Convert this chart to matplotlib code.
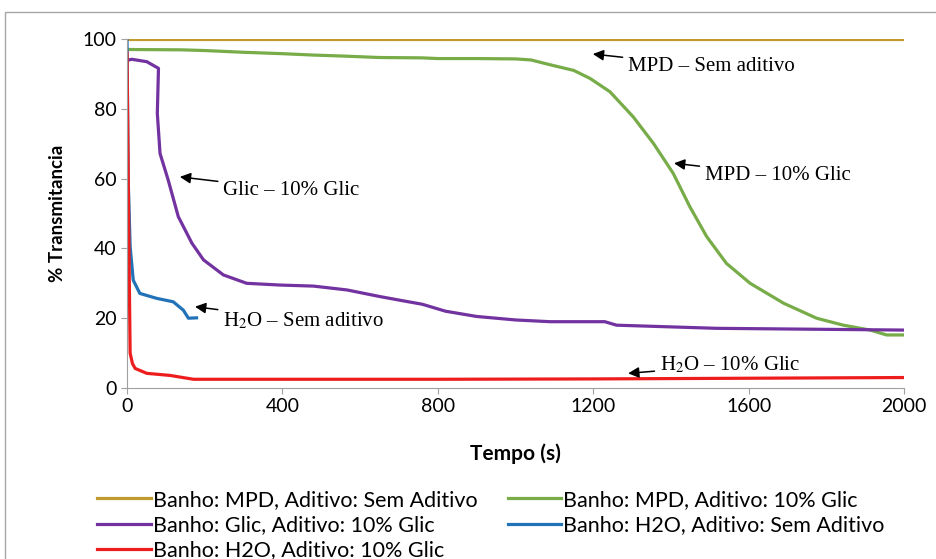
import matplotlib.pyplot as plt
from matplotlib.patches import Rectangle

# ---- dados ----
mpd_sem_t = [0, 2000]
mpd_sem_y = [100, 100]

mpd_glic_t = [0, 140, 200, 300, 400, 480, 560, 650, 760, 800, 900, 1000, 1040, 1090,
              1150, 1192, 1243, 1303, 1355, 1406, 1449, 1492, 1543, 1604, 1690, 1775,
              1844, 1913, 1955, 2000]
mpd_glic_y = [97, 96.9, 96.7, 96.2, 95.8, 95.4, 95.1, 94.7, 94.6, 94.4, 94.4, 94.3, 94.0, 92.6,
              91.0, 88.7, 84.9, 77.7, 70.1, 61.5, 51.9, 43.4, 35.7, 30.0, 24.3, 20.0,
              18.0, 16.6, 15.2, 15.2]

glic_glic_t = [5, 12, 51, 81, 78, 85, 106, 132, 167, 197, 248, 308, 394, 480, 566, 651,
               700, 760, 820, 900, 1000, 1089, 1230, 1260, 1518, 2000]
glic_glic_y = [94, 94.2, 93.5, 91.6, 78.7, 67.2, 59.6, 49.1, 41.5, 36.7, 32.4, 30.0, 29.5,
               29.2, 28.1, 26.2, 25.2, 24.0, 22.0, 20.5, 19.5, 19.0, 19.0, 18.0, 17.1, 16.6]

h2o_sem_t = [0, 3, 8, 16, 33, 76, 119, 145, 158, 179]
h2o_sem_y = [100, 60, 40.5, 30.9, 27.1, 25.7, 24.7, 22.3, 20.0, 20.1]

h2o_glic_t = [0, 4, 8, 14, 21, 51, 111, 171, 400, 800, 1200, 1600, 2000]
h2o_glic_y = [96, 50, 10, 7, 5.6, 4.2, 3.6, 2.5, 2.5, 2.5, 2.6, 2.8, 3.0]

labels = ["Banho: MPD, Aditivo: Sem Aditivo", "Banho: MPD, Aditivo: 10% Glic",
          "Banho: Glic, Aditivo: 10% Glic", "Banho: H2O, Aditivo: Sem Aditivo",
          "Banho: H2O, Aditivo: 10% Glic"]
colors = ['#C09A2C', '#77AC48', '#7232A0', '#2272B8', '#EE1D1D']

# anotações: texto, ponta da seta, posição do texto
notes = [
    ("MPD \u2013 Sem aditivo", (1199, 95.7), (1290, 92)),
    ("MPD \u2013 10% Glic", (1408, 64.4), (1488, 61)),
    ("Glic \u2013 10% Glic", (136, 60.5), (248, 56.7)),
    ("H$_2$O \u2013 Sem aditivo", (175, 23.3), (248, 19.3)),
    ("H$_2$O \u2013 10% Glic", (1290, 4.2), (1372, 6.6)),
]

plt.rcParams['mathtext.fontset'] = 'stix'
fig = plt.figure(figsize=(9.36, 5.59), dpi=100)
ax = fig.add_axes([0.1357, 0.3059, 0.8301, 0.6243])

# moldura cinza em volta do gráfico
fig.patches.append(Rectangle((5 / 936, -0.05), 1.0, 1 - 12 / 559 + 0.05,
                             transform=fig.transFigure, fill=False,
                             edgecolor='#A6A6A6', linewidth=1.0))

series = [(mpd_sem_t, mpd_sem_y), (mpd_glic_t, mpd_glic_y), (glic_glic_t, glic_glic_y),
          (h2o_sem_t, h2o_sem_y), (h2o_glic_t, h2o_glic_y)]
handles = []
for (t, y), lab, c in zip(series, labels, colors):
    h, = ax.plot(t, y, color=c, lw=2.3, label=lab, solid_joinstyle='round')
    handles.append(h)

for txt, tip, pos in notes:
    ax.annotate(txt, xy=tip, xytext=pos, fontsize=15, family='Liberation Serif',
                va='center', ha='left',
                arrowprops=dict(arrowstyle='-|>', color='black', lw=1.1,
                                mutation_scale=16, shrinkA=2, shrinkB=0))

ax.set_xlim(0, 2000)
ax.set_ylim(0, 100)
ax.set_xticks(range(0, 2001, 400))
ax.set_yticks(range(0, 101, 20))
ax.tick_params(labelsize=14, colors='#A0A0A0', labelcolor='black', length=4)
for lbl in ax.get_xticklabels() + ax.get_yticklabels():
    lbl.set_family('Lato')

ax.spines['top'].set_visible(False)
ax.spines['right'].set_visible(False)
ax.spines['left'].set_color('#A0A0A0')
ax.spines['bottom'].set_color('#A0A0A0')

ax.set_xlabel('Tempo (s)', fontweight='bold', fontsize=15, family='Lato', labelpad=20)
ax.set_ylabel('% Transmitancia', fontweight='bold', fontsize=13.5, family='Lato', labelpad=12)

# ordem por linhas (2 colunas)
order = [0, 2, 4, 1, 3]
fig.legend([handles[i] for i in order], [labels[i] for i in order],
           loc='upper left', bbox_to_anchor=(86 / 936, 1 - 479 / 559), ncol=2,
           frameon=False, borderpad=0, handlelength=2.5, columnspacing=1.4,
           handletextpad=0.1, labelspacing=0.25,
           prop={'family': 'Lato', 'size': 15.5})

plt.savefig('out.png', dpi=100)
